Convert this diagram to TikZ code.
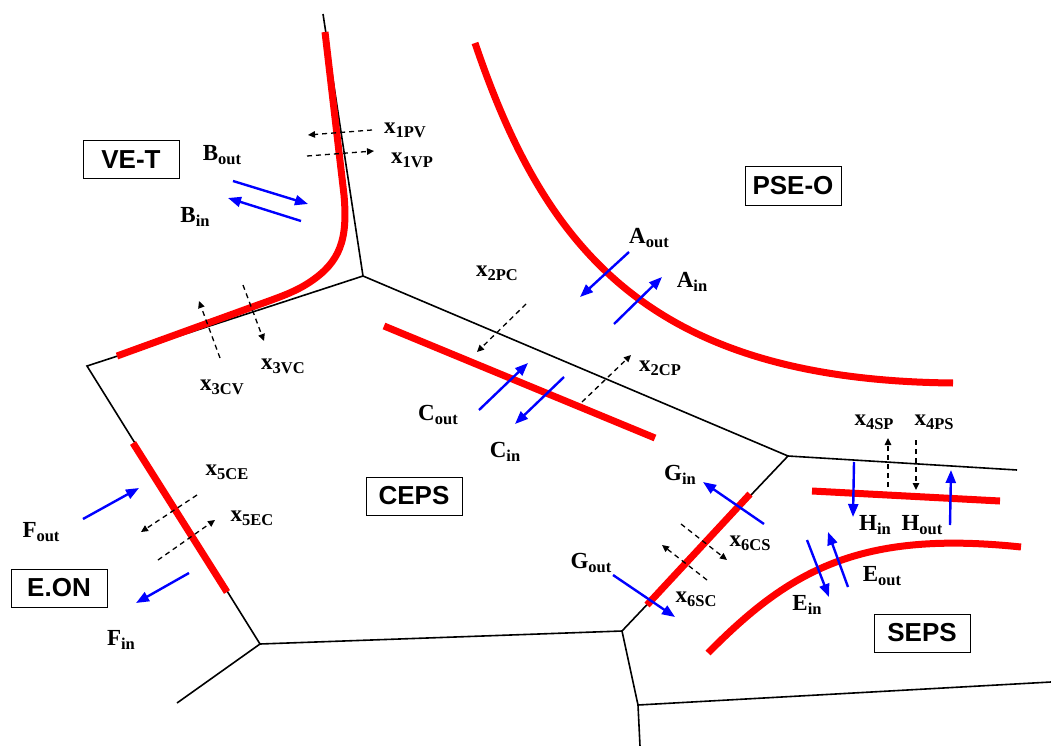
\documentclass[tikz,border=0pt]{standalone}
\usepackage{fontspec}
\setmainfont{Liberation Serif}
\newfontfamily\arialfont{Liberation Sans}
\usetikzlibrary{arrows.meta}
\newcommand\lbl[2]{#1\raisebox{-0.35ex}{\fontsize{16.5}{16.5}\selectfont #2}}
\begin{document}
\begin{tikzpicture}[x=1pt,y=-1pt,
  border/.style={line width=1.6pt, black},
  front/.style={line width=7pt, red},
  flow/.style={line width=2.4pt, blue, -{Triangle[length=13pt,width=10pt]}},
  xflow/.style={line width=1.3pt, dash pattern=on 5pt off 4pt, -{Triangle[length=7pt,width=6.5pt]}},
  lab/.style={font=\bfseries\fontsize{23}{25}\selectfont, inner sep=0pt},
  area/.style={draw, line width=1pt, font=\arialfont\bfseries\fontsize{26}{28}\selectfont, minimum width=96pt, minimum height=38pt, inner sep=0pt}]
\useasboundingbox (0,0) rectangle (1051,746);
% border vertices
\coordinate (v1) at (363,276);
\coordinate (v2) at (87,366);
\coordinate (v3) at (260,644);
\coordinate (v4) at (622,631);
\coordinate (v5) at (788,456);
\coordinate (v6) at (638,705);
\coordinate (t1) at (323,14);
\coordinate (t2) at (177,703);
\coordinate (t3) at (1017,470);
\coordinate (t4) at (1051,682);
\coordinate (t5) at (640,746);
\draw[border] (t1) -- (v1) -- (v2) -- (v3) -- (v4) -- (v5) -- (v1);
\draw[border] (v3) -- (t2);
\draw[border] (v5) -- (t3);
\draw[border] (v4) -- (v6) -- (t4);
\draw[border] (v6) -- (t5);
% red fronts
\draw[front] (325,32) -- (344,195) .. controls (348,240) and (340,262) .. (310,282) .. controls (295,292) and (280,297) .. (255,306) -- (117,356);
\draw[front] (475,43) .. controls (545,250) and (650,380) .. (953,383);
\draw[front] (384,326) -- (655,438);
\draw[front] (133,443) -- (227,592);
\draw[front] (750,494) -- (647,605);
\draw[front] (812,491) -- (1000,501);
\draw[front] (708,653) .. controls (790,570) and (860,530) .. (1021,547);
% areas
\node[area] (vet) at (131,160) {VE-T};
\node[area] (pseo) at (793,186) {PSE-O};
\node[area] (ceps) at (414,496) {CEPS};
\node[area] (eon) at (59,588) {E.ON};
\node[area] (seps) at (922,633) {SEPS};
% blue flows
\draw[flow] (233,181) -- (308,204);
\draw[flow] (301,221) -- (228,198);
\draw[flow] (629,252) -- (580,297);
\draw[flow] (614,324) -- (662,277);
\draw[flow] (479,410) -- (528,363);
\draw[flow] (564,377) -- (515,424);
\draw[flow] (83,519) -- (139,488);
\draw[flow] (189,573) -- (136,603);
\draw[flow] (764,524) -- (703,482);
\draw[flow] (613,575) -- (675,617);
\draw[flow] (854,462) -- (853,517);
\draw[flow] (950,525) -- (951,470);
\draw[flow] (807,540) -- (829,597);
\draw[flow] (848,587) -- (828,532);
% dashed flows
\draw[xflow] (372,130) -- (308,135);
\draw[xflow] (307,156) -- (374,151);
\draw[xflow] (220,358) -- (199,301);
\draw[xflow] (243,285) -- (264,341);
\draw[xflow] (526,304) -- (477,352);
\draw[xflow] (582,402) -- (631,355);
\draw[xflow] (197,495) -- (141,532);
\draw[xflow] (158,560) -- (215,520);
\draw[xflow] (888,487) -- (888,438);
\draw[xflow] (916,440) -- (916,490);
\draw[xflow] (681,524) -- (727,560);
\draw[xflow] (707,580) -- (662,545);
% labels
\node[lab] (l1pv) at (405,130) {\lbl{x}{1PV}};
\node[lab] (l1vp) at (412,160) {\lbl{x}{1VP}};
\node[lab] (lbo) at (222,155) {\lbl{B}{out}};
\node[lab] (lbi) at (195,217) {\lbl{B}{in}};
\node[lab] (lao) at (649,238) {\lbl{A}{out}};
\node[lab] (lai) at (692,282) {\lbl{A}{in}};
\node[lab] (l2pc) at (497,273) {\lbl{x}{2PC}};
\node[lab] (l2cp) at (660,368) {\lbl{x}{2CP}};
\node[lab] (lco) at (438,415) {\lbl{C}{out}};
\node[lab] (lci) at (505,452) {\lbl{C}{in}};
\node[lab] (l3cv) at (222,387) {\lbl{x}{3CV}};
\node[lab] (l3vc) at (283,366) {\lbl{x}{3VC}};
\node[lab] (l5ce) at (227,472) {\lbl{x}{5CE}};
\node[lab] (l5ec) at (252,518) {\lbl{x}{5EC}};
\node[lab] (lfo) at (41,532) {\lbl{F}{out}};
\node[lab] (lfi) at (121,640) {\lbl{F}{in}};
\node[lab] (lgi) at (680,475) {\lbl{G}{in}};
\node[lab] (lgo) at (591,563) {\lbl{G}{out}};
\node[lab] (l6cs) at (750,543) {\lbl{x}{6CS}};
\node[lab] (l6sc) at (696,599) {\lbl{x}{6SC}};
\node[lab] (l4sp) at (874,422) {\lbl{x}{4SP}};
\node[lab] (l4ps) at (934,422) {\lbl{x}{4PS}};
\node[lab] (lhi) at (875,525) {\lbl{H}{in}};
\node[lab] (lho) at (922,525) {\lbl{H}{out}};
\node[lab] (leo) at (882,576) {\lbl{E}{out}};
\node[lab] (lei) at (807,605) {\lbl{E}{in}};
\end{tikzpicture}
\end{document}
